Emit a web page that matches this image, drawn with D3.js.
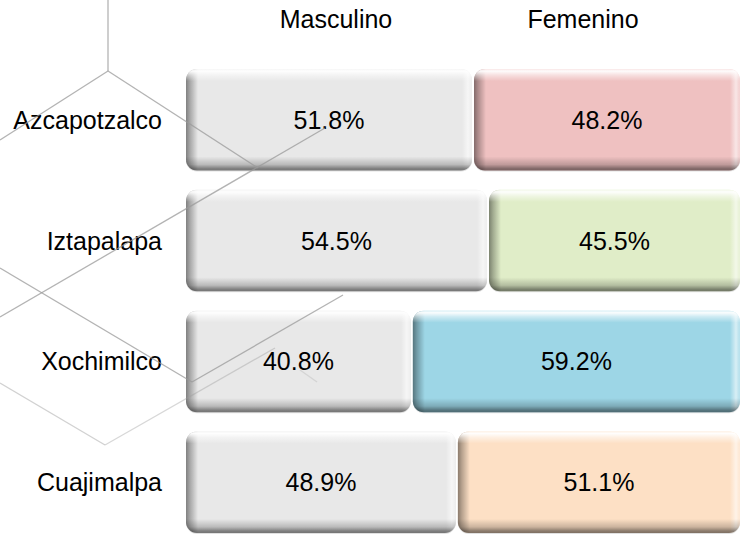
<!DOCTYPE html>
<html>
<head>
<meta charset="utf-8">
<script src="https://cdn.jsdelivr.net/npm/d3@7"></script>
<style>
  html, body { margin: 0; padding: 0; background: #ffffff; }
  svg { display: block; font-family: Arial, "Liberation Sans", sans-serif; }
</style>
</head>
<body>
<div id="chart"></div>
<script>
// data
var categories = ["Azcapotzalco", "Iztapalapa", "Xochimilco", "Cuajimalpa"];
var seriesNames = ["Masculino", "Femenino"];
var masculino = [51.8, 54.5, 40.8, 48.9];
var femenino = [48.2, 45.5, 59.2, 51.1];
var femColors = ["#efc1c1", "#e0edc8", "#9dd6e6", "#fde0c5"];
var mascColor = "#e8e8e8";

// background hexagon lines (template decoration)
var decoLines = [
  [108, 0, 108, 71, 0.75],
  [108, 71, 0, 140, 0.75],
  [108, 71, 258, 168, 0.75],
  [325, 128, 0, 317, 0.75],
  [0, 268, 192, 382, 0.75],
  [192, 382, 343, 295, 0.75],
  [0, 383, 105, 445, 0.45],
  [105, 445, 275, 348, 0.4],
  [300, 370, 317, 382, 0.25]
];

var width = 744, height = 536;
var fontSize = 25;
var svg = d3.select("#chart").append("svg")
    .attr("width", width)
    .attr("height", height);
var defs = svg.append("defs");

var x = d3.scaleLinear()
    .domain([0, 100])
    .range([185, 741]);
var y = d3.scaleBand()
    .domain(categories)
    .range([60, 542])
    .paddingInner(0.16)
    .paddingOuter(0.075);

var rows = categories.map(function(c, i) {
    return {
        cat: c,
        segs: [
            {name: seriesNames[0], v: masculino[i], x0: 0, x1: masculino[i], color: mascColor},
            {name: seriesNames[1], v: femenino[i], x0: masculino[i], x1: masculino[i] + femenino[i], color: femColors[i]}
        ]
    };
});

// headers
svg.append("g").selectAll("text")
    .data(seriesNames)
    .join("text")
    .attr("x", function(d, i) { return i == 0 ? 336 : 583; })
    .attr("y", 28)
    .attr("text-anchor", "middle")
    .attr("font-size", fontSize)
    .attr("fill", "#000")
    .text(function(d) { return d; });

// category labels
svg.append("g").selectAll("text")
    .data(categories)
    .join("text")
    .attr("x", 162)
    .attr("y", function(d) { return y(d) + y.bandwidth() / 2; })
    .attr("dy", "0.36em")
    .attr("text-anchor", "end")
    .attr("font-size", fontSize)
    .attr("fill", "#000")
    .text(function(d) { return d; });

// bevel gradients, offsets in pixels turned into fractions
function addGrad(id, horizontal, size, stops) {
    var g = defs.append("linearGradient")
        .attr("id", id)
        .attr("x1", 0).attr("y1", 0)
        .attr("x2", horizontal ? 1 : 0)
        .attr("y2", horizontal ? 0 : 1);
    stops.forEach(function(s) {
        var off = s[0] < 0 ? (size + s[0]) / size : s[0] / size;
        g.append("stop")
            .attr("offset", Math.max(0, Math.min(1, off)))
            .attr("stop-color", s[1])
            .attr("stop-opacity", s[2]);
    });
}

var bars = svg.append("g");
var k = 0;
rows.forEach(function(r) {
    r.segs.forEach(function(s) {
        var bx = x(s.x0) + 1, bw = x(s.x1) - x(s.x0) - 2;
        var by = y(r.cat), bh = y.bandwidth();
        var g = bars.append("g");
        addGrad("v" + k, false, bh, [
            [0, "#ffffff", 0.6], [2, "#ffffff", 0.95], [6, "#ffffff", 0.5],
            [12, "#ffffff", 0], [-14, "#000000", 0], [-6, "#000000", 0.2],
            [-2, "#000000", 0.45], [-0.001, "#000000", 0.5]
        ]);
        addGrad("h" + k, true, bw, [
            [0, "#000000", 0.45], [4, "#000000", 0.28], [12, "#000000", 0],
            [-10, "#ffffff", 0], [-4, "#ffffff", 0.6], [-1, "#ffffff", 0.3]
        ]);
        g.append("rect")
            .attr("x", bx).attr("y", by + 1)
            .attr("width", bw).attr("height", bh)
            .attr("rx", 11).attr("ry", 11)
            .attr("fill", "#000").attr("opacity", 0.12);
        g.append("rect")
            .attr("x", bx).attr("y", by)
            .attr("width", bw).attr("height", bh)
            .attr("rx", 11).attr("ry", 11)
            .attr("fill", s.color);
        g.append("rect")
            .attr("x", bx).attr("y", by)
            .attr("width", bw).attr("height", bh)
            .attr("rx", 11).attr("ry", 11)
            .attr("fill", "url(#h" + k + ")");
        g.append("rect")
            .attr("x", bx).attr("y", by)
            .attr("width", bw).attr("height", bh)
            .attr("rx", 11).attr("ry", 11)
            .attr("fill", "url(#v" + k + ")");
        g.append("text")
            .attr("x", bx + bw / 2)
            .attr("y", by + bh / 2)
            .attr("dy", "0.36em")
            .attr("text-anchor", "middle")
            .attr("font-size", fontSize)
            .attr("fill", "#000")
            .text(s.v.toFixed(1) + "%");
        k++;
    });
});

// decoration lines over everything, semi transparent
svg.append("g").selectAll("line")
    .data(decoLines)
    .join("line")
    .attr("x1", function(d) { return d[0]; })
    .attr("y1", function(d) { return d[1]; })
    .attr("x2", function(d) { return d[2]; })
    .attr("y2", function(d) { return d[3]; })
    .attr("stroke", "#9a9a9a")
    .attr("stroke-width", 1.3)
    .attr("stroke-opacity", function(d) { return d[4]; });
</script>
</body>
</html>
